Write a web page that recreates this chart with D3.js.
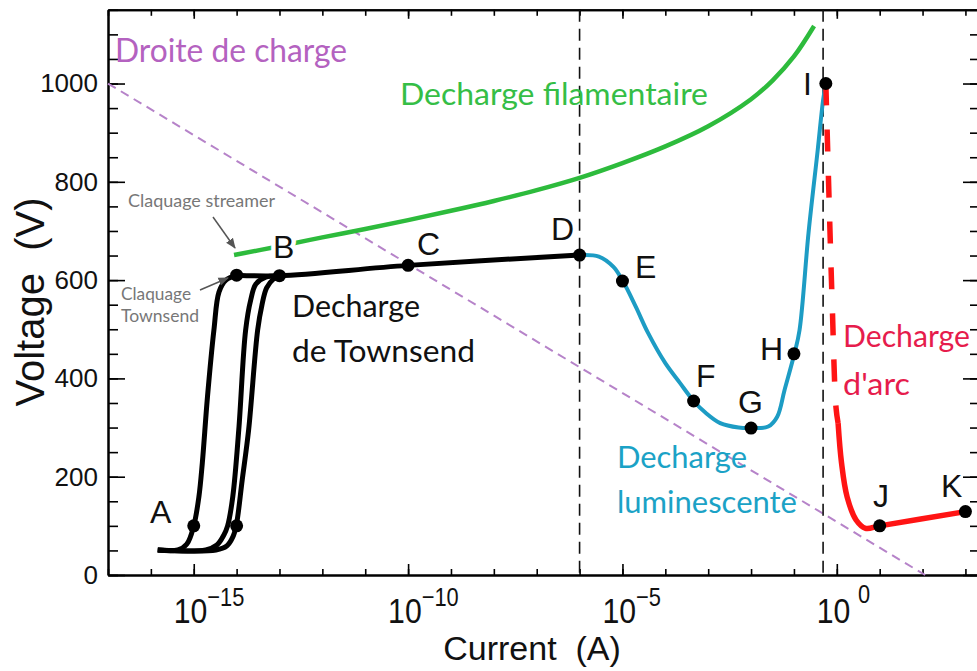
<!DOCTYPE html>
<html><head><meta charset="utf-8">
<script src="https://cdn.jsdelivr.net/npm/d3@7"></script>
<style>
html,body{margin:0;padding:0;background:#fff;}
svg{display:block;}
</style></head>
<body>
<svg id="c" width="977" height="671"></svg>
<script>
// ---------- data (current as log10(A), voltage in V) ----------
const xDomainLog = [-17, 3.34];
const yDomain = [0, 1150];
const majorDecades = [-15, -10, -5, 0];
const allDecades = d3.range(-17, 4);
const yMajorTicks = [0, 200, 400, 600, 800, 1000];
const yMinorTicks = d3.range(0, 1151, 50);

const t1LogI = [-15.84, -15.37, -15.16, -15.0, -14.88, -14.80, -14.68, -14.53, -14.41, -14.25, -13.98];
const t1V    = [51, 51, 63, 100, 159, 228, 362, 498, 576, 600, 610];
const t2LogI = [-15.84, -14.72, -14.46, -14.30, -14.21, -14.09, -13.95, -13.79, -13.67, -13.55, -13.32, -12.97];
const t2V    = [51, 51, 61, 81, 100, 159, 295, 498, 560, 592, 606, 608];
const t3LogI = [-15.84, -14.48, -14.23, -14.09, -14.01, -13.87, -13.72, -13.51, -13.41, -13.30, -13.14, -12.97];
const t3V    = [51, 51, 59, 77, 100, 193, 295, 498, 549, 584, 602, 608];
const plateauLogI = [-14, -13, -10, -6];
const plateauV    = [610, 609, 630, 651];

const glowLogI = [-6.00, -5.55, -5.21, -4.99, -4.69, -4.40, -4.00, -3.66, -3.34, -3.06, -2.72, -2.29, -1.99, -1.60, -1.39, -1.22, -0.99, -0.87, -0.66, -0.445, -0.32, -0.256];
const glowV    = [651, 648, 627, 598, 546, 492, 431, 391, 354, 330, 309, 300, 299, 302, 322, 376, 450, 498, 696, 865, 966, 1000];

const arcDashLogI = [-0.256, -0.18, -0.11, -0.02, 0.03];
const arcDashV    = [1000, 763, 559, 342, 309];
const arcLogI = [0.03, 0.11, 0.24, 0.45, 0.67, 1.0, 3.0];
const arcV    = [309, 228, 159, 112, 95, 100, 129];

const filLogI = [-14.06, -13, -12, -11, -10, -9, -8, -7, -6, -5, -4, -3, -2, -1.5, -1, -0.53];
const filV    = [651, 669, 687, 704, 722, 741, 761, 783, 808, 838, 872, 913, 968, 1006, 1055, 1117];

const loadLogI = [-17, 2.06];
const loadV    = [1000, 0];

const vLinesLogI = [-6, -0.32];

const pointNames = ["A", "", "", "B", "C", "D", "E", "F", "G", "H", "I", "J", "K"];
const pointLogI  = [-15, -14, -14, -13, -10, -6, -5, -3.34, -2, -1, -0.256, 1, 3];
const pointV     = [100, 100, 610, 609, 630, 651, 598, 354, 299, 450, 1000, 100, 129];

// ---------- scales ----------
const L = 108, R = 980, T = 9.8, B = 575;
const x = d3.scaleLog().domain(xDomainLog.map(e => Math.pow(10, e))).range([L, R]);
const y = d3.scaleLinear().domain(yDomain).range([B, T]);
const svg = d3.select("#c");
const px = (lg, v) => [x(Math.pow(10, lg)), y(v)];
const zip = (a, b) => a.map((d, i) => px(d, b[i]));
const line = d3.line().curve(d3.curveCatmullRom.alpha(0.5));
const straight = d3.line();

// ---------- frame & axes ----------
const axG = svg.append("g").attr("font-family", "Liberation Sans, Arial, sans-serif");
const tickVals = allDecades.map(e => Math.pow(10, e));
const majVals = majorDecades.map(e => Math.pow(10, e));
function styleAxis(g){ g.select(".domain").attr("stroke", "#000").attr("stroke-width", 2); g.selectAll(".tick line").attr("stroke","#000").attr("stroke-width",1.6); g.selectAll("text").remove(); }
axG.append("g").attr("transform", `translate(0,${B})`).call(d3.axisBottom(x).tickValues(tickVals).tickSize(-6).tickSizeOuter(0)).call(styleAxis);
axG.append("g").attr("transform", `translate(0,${B})`).call(d3.axisBottom(x).tickValues(majVals).tickSize(-11).tickSizeOuter(0)).call(styleAxis);
axG.append("g").attr("transform", `translate(0,${T})`).call(d3.axisTop(x).tickValues(tickVals).tickSize(-6).tickSizeOuter(0)).call(styleAxis);
axG.append("g").attr("transform", `translate(0,${T})`).call(d3.axisTop(x).tickValues(majVals).tickSize(-9).tickSizeOuter(0)).call(styleAxis);
axG.append("g").attr("transform", `translate(${L},0)`).call(d3.axisLeft(y).tickValues(yMinorTicks).tickSize(-10).tickSizeOuter(0)).call(styleAxis);
const yl = axG.append("g").attr("transform", `translate(${L},0)`).call(d3.axisLeft(y).tickValues(yMajorTicks).tickSize(-17).tickSizeOuter(0).tickPadding(10).tickFormat(d3.format("d")));
yl.select(".domain").attr("stroke","#000").attr("stroke-width",2);
yl.selectAll(".tick line").attr("stroke","#000").attr("stroke-width",1.6);
yl.selectAll("text").attr("font-size", 26).attr("fill", "#111").attr("font-family", "Liberation Sans, Arial, sans-serif");
axG.append("g").attr("transform", `translate(${R},0)`).call(d3.axisRight(y).tickValues(yMinorTicks).tickSize(-10).tickSizeOuter(0)).call(styleAxis);
axG.append("g").attr("transform", `translate(${R},0)`).call(d3.axisRight(y).tickValues(yMajorTicks).tickSize(-17).tickSizeOuter(0)).call(styleAxis);

// x tick labels with superscripts
majorDecades.forEach(e => {
  const g = axG.append("g").attr("transform", `translate(${x(Math.pow(10, e)) - 20},623) scale(0.84,1)`);
  const t = g.append("text").attr("font-size", 36).attr("fill", "#111");
  t.append("tspan").text("10");
  t.append("tspan").attr("font-size", 26).attr("dy", e === 0 ? -20 : -17).attr("dx", e === 0 ? 9 : 0)
    .text(e < 0 ? "\u2212" + Math.abs(e) : String(e));
});

// axis titles
axG.append("text").attr("x", 532).attr("y", 660).attr("text-anchor", "middle")
  .attr("font-size", 34).attr("fill", "#111").text("Current\u00a0\u00a0(A)");
axG.append("text").attr("transform", "translate(44,302) rotate(-90)").attr("text-anchor", "middle")
  .attr("font-size", 40).attr("fill", "#111").text("Voltage\u00a0\u00a0(V)");

// ---------- reference lines ----------
svg.append("path").attr("d", straight(zip(loadLogI, loadV))).attr("fill", "none")
  .attr("stroke", "#b683c9").attr("stroke-width", 2).attr("stroke-dasharray", "9,6");
vLinesLogI.forEach(e => {
  svg.append("line").attr("x1", x(Math.pow(10, e))).attr("x2", x(Math.pow(10, e))).attr("y1", T).attr("y2", B)
    .attr("stroke", "#111").attr("stroke-width", 1.6).attr("stroke-dasharray", "12,7");
});

// ---------- curves ----------
svg.append("path").attr("d", line(zip(filLogI, filV))).attr("fill", "none").attr("stroke", "#2dbb3c").attr("stroke-width", 4.5);
[[t1LogI, t1V], [t2LogI, t2V], [t3LogI, t3V]].forEach(([a, b]) => {
  svg.append("path").attr("d", line(zip(a, b))).attr("fill", "none").attr("stroke", "#000").attr("stroke-width", 5).attr("stroke-linejoin", "round");
});
svg.append("path").attr("d", line(zip(plateauLogI, plateauV))).attr("fill", "none").attr("stroke", "#000").attr("stroke-width", 5);
svg.append("path").attr("d", line(zip(glowLogI, glowV))).attr("fill", "none").attr("stroke", "#1d9cc4").attr("stroke-width", 4);
svg.append("path").attr("d", line(zip(arcDashLogI, arcDashV))).attr("fill", "none").attr("stroke", "#ff1414").attr("stroke-width", 5.5).attr("stroke-dasharray", "22,24");
svg.append("path").attr("d", line(zip(arcLogI, arcV))).attr("fill", "none").attr("stroke", "#ff1414").attr("stroke-width", 5.5);

// ---------- points ----------
svg.append("g").selectAll("circle").data(pointLogI).join("circle")
  .attr("cx", d => x(Math.pow(10, d))).attr("cy", (d, i) => y(pointV[i])).attr("r", 6.5).attr("fill", "#000");

// ---------- point letters ----------
const letterPos = {A:[150,523], B:[273,258], C:[417,255], D:[551,240], E:[635,278], F:[696,387], G:[738,413], H:[760,360], I:[803,95], J:[873,507], K:[941,497]};
const lg = svg.append("g").attr("font-family", "Liberation Sans, Arial, sans-serif").attr("font-size", 32).attr("fill", "#111");
pointNames.filter(n => n).forEach(n => {
  const t = lg.append("text").attr("x", letterPos[n][0]).attr("y", letterPos[n][1]).text(n);
  if (n === "B") t.attr("stroke", "#fff").attr("stroke-width", 9).attr("paint-order", "stroke").attr("stroke-linejoin","round");
});

// ---------- annotations ----------
const an = svg.append("g").attr("font-family", "Lato, 'Open Sans', sans-serif");
function label(txt, xx, yy, size, color, len){
  const t = an.append("text").attr("x", xx).attr("y", yy).attr("font-size", size).attr("fill", color).text(txt);
  if (len) t.attr("textLength", len).attr("lengthAdjust", "spacingAndGlyphs");
  return t;
}
label("Droite de charge", 115, 62, 32, "#b462c0", 232);
label("Decharge filamentaire", 400, 105, 31, "#35be46", 308);
label("Decharge", 292, 317, 31, "#111", 128);
label("de Townsend", 292, 362, 31, "#111", 183);
label("Decharge", 617, 468, 31, "#1ba2c6", 130);
label("luminescente", 617, 513, 31, "#1ba2c6", 180);
label("Decharge", 843, 347, 31, "#e61c4c", 127);
label("d'arc", 843, 395, 31, "#e61c4c", 67);
label("Claquage streamer", 128, 207, 17, "#777", 147);
label("Claquage", 121, 300, 17, "#777", 70);
label("Townsend", 121, 322, 17, "#777", 78);

// arrows
const defs = svg.append("defs");
defs.append("marker").attr("id", "ah").attr("viewBox", "0 0 10 10").attr("refX", 9).attr("refY", 5)
  .attr("markerWidth", 7).attr("markerHeight", 7).attr("orient", "auto")
  .append("path").attr("d", "M0,1 L10,5 L0,9 Z").attr("fill", "#555");
svg.append("line").attr("x1", 213).attr("y1", 217).attr("x2", 235).attr("y2", 248)
  .attr("stroke", "#555").attr("stroke-width", 1.5).attr("marker-end", "url(#ah)");
svg.append("line").attr("x1", 200).attr("y1", 290).attr("x2", 228).attr("y2", 278)
  .attr("stroke", "#555").attr("stroke-width", 1.5).attr("marker-end", "url(#ah)");
</script>
</body></html>
